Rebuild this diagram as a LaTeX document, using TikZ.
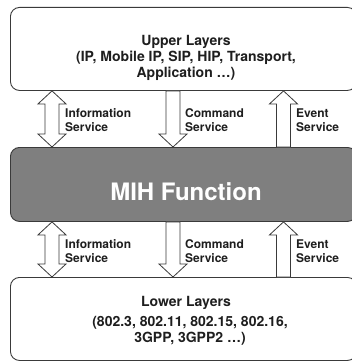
\documentclass[tikz,border=0pt]{standalone}
\usepackage{fontspec}
\setmainfont{TeX Gyre Heros}
\usetikzlibrary{calc}
\definecolor{mihgray}{HTML}{7F7F7F}
\definecolor{edge}{HTML}{3A3A3A}
\definecolor{ink}{HTML}{1E1E1E}

\tikzset{
  layer/.style={draw=edge,line width=0.9pt,rounded corners=9pt,anchor=north west,inner sep=0pt,
    minimum width=346pt},
  % hollow one-way arrow: start = foot of the shaft, target = tip
  fatarrow/.style={draw=edge,fill=white,line width=0.8pt,
    to path={($(\tikztostart)+(-7,0)$) -- ($(\tikztotarget)!13pt!(\tikztostart)+(-7,0)$)
      -- ($(\tikztotarget)!13pt!(\tikztostart)+(-14,0)$) -- (\tikztotarget)
      -- ($(\tikztotarget)!13pt!(\tikztostart)+(14,0)$)
      -- ($(\tikztotarget)!13pt!(\tikztostart)+(7,0)$) -- ($(\tikztostart)+(7,0)$) -- cycle}},
  % hollow two-way arrow between two tips
  dblarrow/.style={draw=edge,fill=white,line width=0.8pt,
    to path={(\tikztostart) -- ($(\tikztostart)!13pt!(\tikztotarget)+(14,0)$)
      -- ($(\tikztostart)!13pt!(\tikztotarget)+(7,0)$)
      -- ($(\tikztotarget)!13pt!(\tikztostart)+(7,0)$)
      -- ($(\tikztotarget)!13pt!(\tikztostart)+(14,0)$) -- (\tikztotarget)
      -- ($(\tikztotarget)!13pt!(\tikztostart)+(-14,0)$)
      -- ($(\tikztotarget)!13pt!(\tikztostart)+(-7,0)$)
      -- ($(\tikztostart)!13pt!(\tikztotarget)+(-7,0)$)
      -- ($(\tikztostart)!13pt!(\tikztotarget)+(-14,0)$) -- cycle}},
  svclabel/.style={font=\fontsize{12}{14.5}\selectfont\bfseries,text=ink,align=left,anchor=west,inner sep=0pt},
  layertext/.style={font=\fontsize{14}{16}\selectfont\bfseries,text=ink,align=center,inner sep=0pt}
}

\begin{document}
\begin{tikzpicture}[x=1pt,y=-1pt]
\useasboundingbox (0,0) rectangle (352,361);
\clip (0,0) rectangle (352,361);

% the three layers
\node[layer,minimum height=83pt] (upper) at (10,7) {};
\node[layer,fill=mihgray,minimum height=74pt] (mih) at (10,147) {};
\node[layer,minimum height=83pt] (lower) at (10,277) {};

\node[layertext] (uppertxt) at (186,58) {Upper Layers\\(IP, Mobile IP, SIP, HIP, Transport,\\Application …)};
\node[font=\fontsize{24}{28}\selectfont\bfseries,text=white,anchor=base] (mihtxt) at (186,200) {MIH Function};
\node[layertext,anchor=base] (lowertitle) at (186,306) {Lower Layers};
\node[layertext] (lowertxt) at (190,331) {(802.3, 802.11, 802.15, 802.16,\\3GPP, 3GPP2 …)};

% service columns
\coordinate (infox) at (52,0);
\coordinate (cmdx) at (173,0);
\coordinate (evx) at (283.5,0);

% upper layers <-> MIH
\draw[dblarrow] (upper.south -| infox) to (mih.north -| infox);
\draw[fatarrow] (upper.south -| cmdx) to (mih.north -| cmdx);
\draw[fatarrow] (mih.north -| evx) to (upper.south -| evx);
\node[svclabel] (infoup) at (65,120) {Information\\Service};
\node[svclabel] (cmdup) at (185,120) {Command\\Service};
\node[svclabel] (evup) at (296,120) {Event\\Service};

% MIH <-> lower layers
\draw[dblarrow] (mih.south -| infox) to (lower.north -| infox);
\draw[fatarrow] (mih.south -| cmdx) to (lower.north -| cmdx);
\draw[fatarrow] (lower.north -| evx) to (mih.south -| evx);
\node[svclabel] (infolow) at (65,251) {Information\\Service};
\node[svclabel] (cmdlow) at (185,251) {Command\\Service};
\node[svclabel] (evlow) at (296,251) {Event\\Service};
\end{tikzpicture}
\end{document}
